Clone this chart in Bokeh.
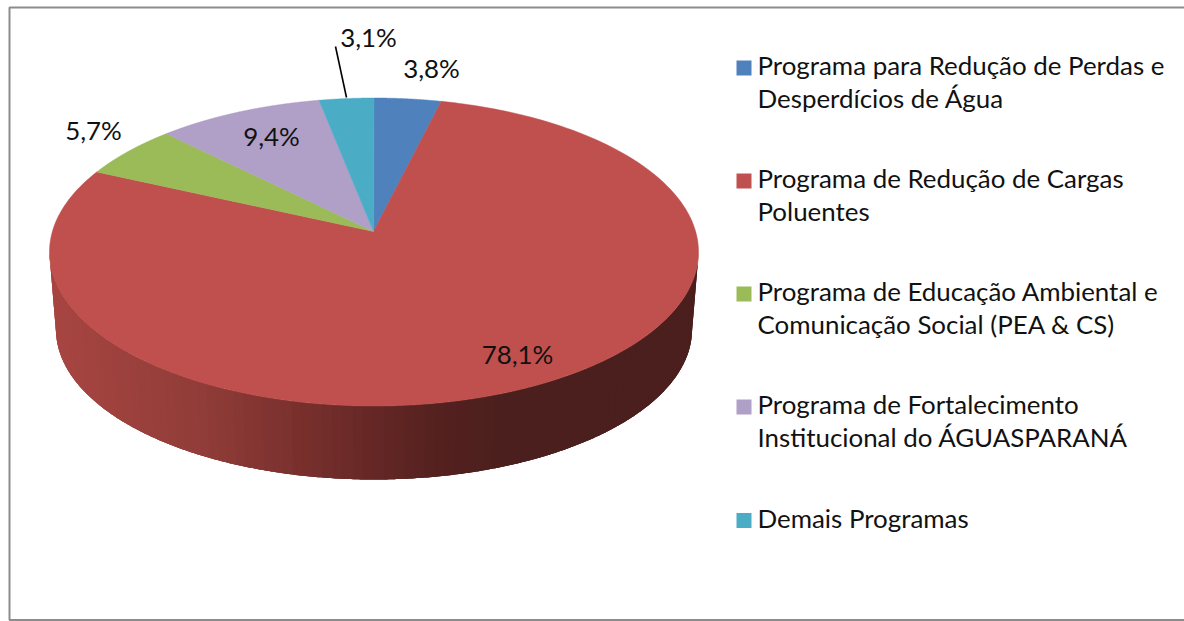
import numpy as np
from bokeh.embed import file_html
from bokeh.resources import INLINE
from bokeh.models import Range1d
from bokeh.plotting import figure
from bokeh.core.properties import value

# ---- data ----
categories = [
    "Programa para Redução de Perdas e\nDesperdícios de Água",
    "Programa de Redução de Cargas\nPoluentes",
    "Programa de Educação Ambiental e\nComunicação Social (PEA & CS)",
    "Programa de Fortalecimento\nInstitucional do ÁGUASPARANÁ",
    "Demais Programas",
]
shares = [3.8, 78.1, 5.7, 9.4, 3.1]
share_labels = ["3,8%", "78,1%", "5,7%", "9,4%", "3,1%"]

# ---- style and layout ----
colors = ["#4f81bd", "#bf504d", "#9bbb59", "#b09fc7", "#4bacc6"]
FONT = "Lato"
W, H = 1184, 621
TOP = dict(cx=373.5, cy=251.5, rx=324.5, ry=154.0)
BOT = dict(cx=373.5, cy=329.0, rx=318.0, ry=150.0)
V0 = (251.5 - 231.0) / 154.0  # perspective: the apex is above the ellipse centre
label_xy = [(431, 67), (517, 353), (93, 129), (271, 135), (368, 36)]
leader = ([335, 346], [46, 97])
legend_y = [67.5, 180.5, 293.5, 406.5, 520]
legend_x, legend_text_x, sw = 743.5, 757, 15
legend_baseline_shift = -3
FS_LEG, FS_LAB = "25.9px", "25.9px"


def rim(t, e):
    """Projected circle: t is the clockwise angle from twelve o'clock."""
    d = 1 + V0 * np.cos(t)
    u = np.sin(t) * np.sqrt(1 - V0 ** 2) / d
    v = (np.cos(t) + V0) / d
    return e["cx"] + e["rx"] * u, e["cy"] - e["ry"] * v, v


p = figure(width=W, height=H, x_range=Range1d(0, W), y_range=Range1d(H, 0),
           output_backend="svg", toolbar_location=None, min_border=0,
           x_axis_type=None, y_axis_type=None)
p.grid.visible = False
p.outline_line_color = None
p.background_fill_color = "white"

# frame (its right side lies beyond the picture)
p.quad(left=[9], right=[1195], top=[7], bottom=[619.5], fill_color=None,
       line_color="#8c8c8c", line_width=2)

total = sum(shares)
edges = np.cumsum([0] + shares) / total * 2 * np.pi

# side wall of the pie with its horizontal shading (overlapping strips, painted right to left)
ramp_x = [49, 200, 300, 373, 440, 510, 700]
ramp_c = np.array([[0xa8, 0x46, 0x42], [0x92, 0x3d, 0x39], [0x7a, 0x31, 0x2e],
                   [0x67, 0x28, 0x26], [0x55, 0x22, 0x20], [0x4b, 0x1f, 0x1d], [0x4b, 0x1f, 0x1d]], float)
for i, c in enumerate(colors):
    ts = np.linspace(edges[i], edges[i + 1], 700)
    x1, y1, v = rim(ts, TOP)
    x2, y2, _ = rim(ts, BOT)
    keep = np.where(v <= 0)[0]
    if len(keep) < 2:
        continue
    keep = keep[::4]
    xs, ys, cols = [], [], []
    for n in range(len(keep) - 1):
        a = keep[n]
        b = keep[min(n + 3, len(keep) - 1)]
        xs.append(list(x1[a:b + 1]) + list(x2[a:b + 1])[::-1])
        ys.append(list(y1[a:b + 1]) + list(y2[a:b + 1])[::-1])
        rgb = [np.interp(x1[a], ramp_x, ramp_c[:, k]) for k in range(3)]
        cols.append("#%02x%02x%02x" % tuple(int(z) for z in rgb))
    p.patches(xs, ys, fill_color=cols, line_color=None)

# top face
apex = (TOP["cx"] - 0.5, 231.0)
for i, c in enumerate(colors):
    ts = np.linspace(edges[i], edges[i + 1], 300)
    x, y, _ = rim(ts, TOP)
    p.patch([apex[0], *x], [apex[1], *y], fill_color=c, line_color=c, line_width=0.5)

# leader line for the smallest slice
p.line(leader[0], leader[1], line_color="black", line_width=1.6)

# value labels
p.text([q[0] for q in label_xy], [q[1] for q in label_xy], text=share_labels,
       text_font=value(FONT), text_font_size=value(FS_LAB), text_color="#111111",
       text_align="center", text_baseline="middle")

# legend
for cat, c, yc in zip(categories, colors, legend_y):
    p.rect([legend_x], [yc], width=sw, height=sw, fill_color=c, line_color=None)
    for k, line in enumerate(cat.split("\n")):
        p.text([legend_text_x], [yc + legend_baseline_shift + 32.7 * k], text=[line], text_font=value(FONT),
               text_font_size=value(FS_LEG), text_color="#111111",
               text_align="left", text_baseline="alphabetic")

open("out.html", "w").write(file_html(p, INLINE))
